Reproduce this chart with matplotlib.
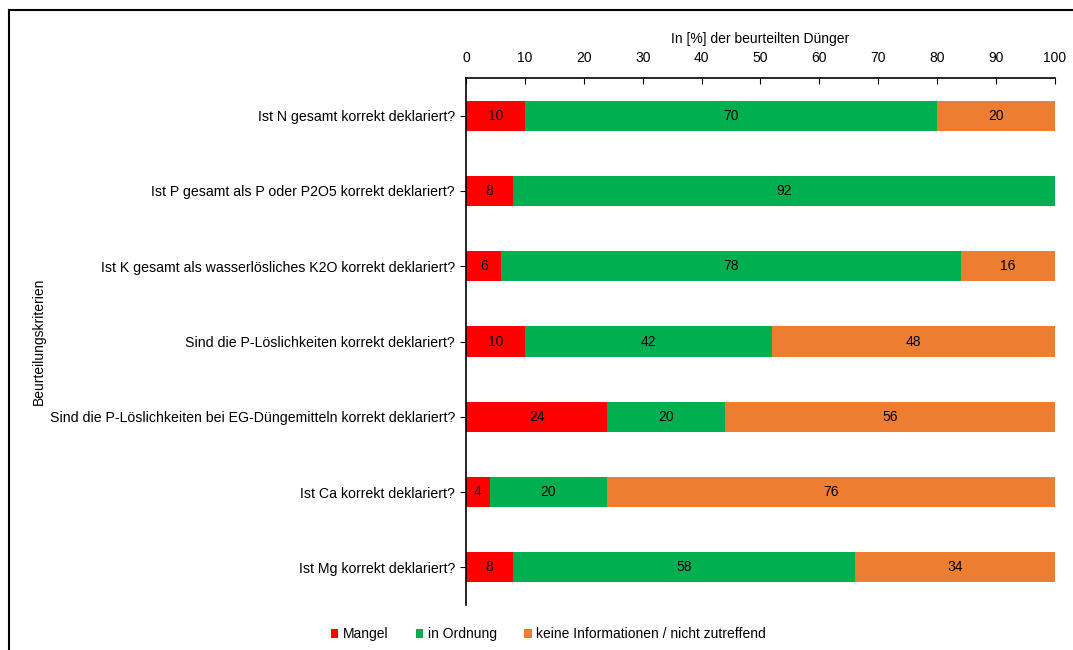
import matplotlib
matplotlib.use("Agg")
import matplotlib.pyplot as plt
from matplotlib.lines import Line2D
import numpy as np

plt.rcParams['font.family'] = ['Liberation Sans', 'DejaVu Sans']

kriterien = [
    "Ist N gesamt korrekt deklariert?",
    "Ist P gesamt als P oder P2O5 korrekt deklariert?",
    "Ist K gesamt als wasserlösliches K2O korrekt deklariert?",
    "Sind die P-Löslichkeiten korrekt deklariert?",
    "Sind die P-Löslichkeiten bei EG-Düngemitteln korrekt deklariert?",
    "Ist Ca korrekt deklariert?",
    "Ist Mg korrekt deklariert?",
]
mangel = [10, 8, 6, 10, 24, 4, 8]
in_ordnung = [70, 92, 78, 42, 20, 20, 58]
keine_info = [20, 0, 16, 48, 56, 76, 34]

serien = [
    ("Mangel", mangel, "#FF0000"),
    ("in Ordnung", in_ordnung, "#00B050"),
    ("keine Informationen / nicht zutreffend", keine_info, "#ED7D31"),
]

fig = plt.figure(figsize=(10.73, 6.5), dpi=100)
ax = fig.add_axes([0.4343, 0.0692, 0.5489, 0.8108])

y = np.arange(len(kriterien))
left = np.zeros(len(kriterien))
for name, vals, col in serien:
    vals = np.array(vals, dtype=float)
    bars = ax.barh(y, vals, left=left, height=0.4, color=col, label=name)
    for b, v in zip(bars, vals):
        if v > 0:
            ax.text(b.get_x() + b.get_width() / 2, b.get_y() + b.get_height() / 2,
                    f"{v:.0f}", ha='center', va='center', fontsize=10, color='black')
    left += vals

ax.set_xlim(0, 100)
ax.set_ylim(len(kriterien) - 0.5, -0.5)
ax.set_xticks(range(0, 101, 10))
ax.set_yticks(y)
ax.set_yticklabels(kriterien, fontsize=10.15)
ax.xaxis.tick_top()
ax.xaxis.set_label_position('top')
ax.tick_params(axis='x', direction='in', length=4, labelsize=10, pad=9)
ax.tick_params(axis='y', direction='out', length=4, pad=4)
ax.set_xlabel("In [%] der beurteilten Dünger", fontsize=10, labelpad=6)
for s in ['right', 'bottom']:
    ax.spines[s].set_visible(False)
ax.spines['top'].set_linewidth(1.2)
ax.spines['left'].set_linewidth(1.2)

fig.text(0.036, 0.475, "Beurteilungskriterien", rotation=90, ha='center', va='center', fontsize=10)

fig.legend(loc='center', bbox_to_anchor=(0.511, 0.024), ncol=3, frameon=False,
           fontsize=10, handlelength=0.55, handleheight=0.55, handletextpad=0.3,
           columnspacing=2.0)

# Rahmen links und oben
fig.add_artist(Line2D([0.0084, 0.0084], [0.0, 0.985], transform=fig.transFigure, color='black', lw=1.5))
fig.add_artist(Line2D([0.0084, 1.0], [0.985, 0.985], transform=fig.transFigure, color='black', lw=1.5))

fig.savefig("out.png", dpi=100)
